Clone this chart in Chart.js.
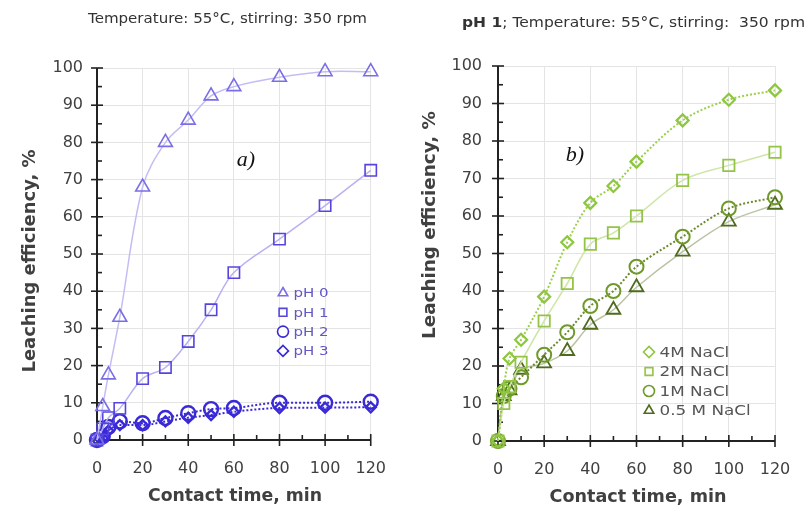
<!DOCTYPE html>
<html><head><meta charset="utf-8">
<script src="https://cdn.jsdelivr.net/npm/chart.js@4/dist/chart.umd.min.js"></script>
<style>
html,body{margin:0;padding:0;background:#fff;}
#wrap{position:relative;width:810px;height:513px;}
.c{position:absolute;top:0;width:405px;height:513px;}
</style></head>
<body><div id="wrap">
<div class="c" style="left:0"><canvas id="a" width="405" height="513"></canvas></div>
<div class="c" style="left:405px"><canvas id="b" width="405" height="513"></canvas></div>
</div>
<script>
// ---- data ----
const times = [0, 2.5, 5, 10, 20, 30, 40, 50, 60, 80, 100, 120];
const xTicks = [0, 20, 40, 60, 80, 100, 120];
const yTicks = [0, 10, 20, 30, 40, 50, 60, 70, 80, 90, 100];
const pH0 = [0, 9, 17.5, 33, 68, 80, 86, 92.5, 95, 97.5, 99, 99];
const pH1 = [0, 3, 6, 8.5, 16.5, 19.5, 26.5, 35, 45, 54, 63, 72.5];
const pH2 = [0, 1, 3.5, 5, 4.5, 5.9, 7.2, 8.3, 8.6, 10, 10, 10.3];
const pH3 = [0, 0.5, 2.5, 4, 4, 5, 6, 6.7, 7.6, 8.6, 8.7, 8.8];
const naCl4 = [0, 14, 22, 27, 38.5, 53, 63.5, 68, 74.5, 85.5, 91, 93.5];
const naCl2 = [0, 10, 14.5, 21, 32, 42, 52.5, 55.5, 60, 69.5, 73.5, 77];
const naCl1 = [0, 12, 14, 17, 23, 29, 36, 40, 46.5, 54.5, 62, 65];
const naCl05 = [0, 12, 13.5, 19, 20.7, 24, 31, 35, 41, 50.5, 58.5, 63];
const leftLabels = ['pH 0', 'pH 1', 'pH 2', 'pH 3'];
const rightLabels = ['4M NaCl', '2M NaCl', '1M NaCl', '0.5 M NaCl'];

const pts = arr => arr.map((v, i) => ({x: times[i], y: v}));
const FONT = '"DejaVu Sans", "Open Sans", sans-serif';

function ds(label, data, o) {
  return Object.assign({
    label, data: pts(data), showLine: true, backgroundColor: 'rgba(255,255,255,0)',
    pointBackgroundColor: 'rgba(255,255,255,0)', clip: false, fill: false
  }, o);
}

// draw (possibly mixed-weight) text stretched horizontally to a target width
function fitText(ctx, parts, size, x, y, targetW, align) {
  let total = 0;
  const widths = parts.map(p => { ctx.font = (p.bold ? 'bold ' : '') + size + 'px ' + FONT; const w = ctx.measureText(p.t).width; total += w; return w; });
  const k = targetW / total;
  ctx.save();
  ctx.translate(x, y);
  ctx.scale(k, 1);
  ctx.textAlign = 'left'; ctx.textBaseline = 'middle';
  let cx = align === 'center' ? -total / 2 : 0;
  parts.forEach((p, i) => { ctx.font = (p.bold ? 'bold ' : '') + size + 'px ' + FONT; ctx.fillText(p.t, cx, 0); cx += widths[i]; });
  ctx.restore();
}

function axesPlugin(cfg) {
  return {
    id: 'custom',
    beforeDatasetsDraw(chart) {
      const ctx = chart.ctx, a = chart.chartArea;
      const xs = chart.scales.x, ys = chart.scales.y;
      ctx.save();
      ctx.strokeStyle = '#222'; ctx.lineWidth = 2;
      ctx.beginPath();
      ctx.moveTo(a.left, a.top); ctx.lineTo(a.left, a.bottom); ctx.lineTo(a.right, a.bottom);
      ctx.stroke();
      ctx.lineWidth = 1.6;
      for (let v = 0; v <= 100; v += 5) {
        const y = ys.getPixelForValue(v);
        ctx.beginPath();
        if (v % 10 === 0) { ctx.moveTo(a.left - 6, y); ctx.lineTo(a.left + 6, y); }
        else { ctx.moveTo(a.left, y); ctx.lineTo(a.left + 5, y); }
        ctx.stroke();
      }
      for (let v = 0; v <= 120; v += 10) {
        const x = xs.getPixelForValue(v);
        ctx.beginPath();
        if (v % 20 === 0) { ctx.moveTo(x, a.bottom - 6); ctx.lineTo(x, a.bottom + 6); }
        else { ctx.moveTo(x, a.bottom); ctx.lineTo(x, a.bottom - 5); }
        ctx.stroke();
      }
      ctx.restore();
    },
    afterDraw(chart) {
      const ctx = chart.ctx;
      ctx.save();
      ctx.fillStyle = '#404040';
      // axis titles
      fitText(ctx, [{t: 'Contact time, min', bold: true}], 18, cfg.xTitleX, cfg.xTitleY, cfg.xTitleW, 'center');
      ctx.save();
      ctx.translate(cfg.yTitleX, cfg.yTitleY);
      ctx.rotate(-Math.PI / 2);
      fitText(ctx, [{t: 'Leaching efficiency, %', bold: true}], 18, 0, 0, cfg.yTitleW, 'center');
      ctx.restore();
      // header title
      ctx.fillStyle = '#333';
      fitText(ctx, cfg.title, cfg.titleSize, cfg.titleX, cfg.titleY, cfg.titleW, 'left');
      // panel letter
      ctx.font = 'italic 22px "Liberation Serif", "DejaVu Serif", serif';
      ctx.fillStyle = '#111'; ctx.textAlign = 'center'; ctx.textBaseline = 'middle';
      ctx.fillText(cfg.letter, cfg.letterX, cfg.letterY);
      // legend
      chart.data.datasets.forEach((d, i) => {
        const lx = cfg.legX, ly = cfg.legY + i * cfg.legStep;
        ctx.fillStyle = '#fff';
        ctx.strokeStyle = d.pointBorderColor;
        ctx.lineWidth = 1.6;
        Chart.helpers.drawPoint(ctx, {pointStyle: d.pointStyle, radius: cfg.legR, rotation: 0, borderWidth: 1.6}, lx, ly);
        ctx.font = cfg.legFont + 'px ' + FONT;
        ctx.fillStyle = cfg.legText;
        const w = ctx.measureText(cfg.labels[i]).width;
        fitText(ctx, [{t: cfg.labels[i]}], cfg.legFont, lx + cfg.legR + 5, ly + 1, w * cfg.legStretch, 'left');
      });
      ctx.restore();
    }
  };
}

function makeChart(id, datasets, area, cfg) {
  return new Chart(document.getElementById(id), {
    type: 'scatter',
    data: {datasets},
    options: {
      responsive: false, animation: false, devicePixelRatio: 1,
      layout: {padding: {left: 0, top: area.top, right: 405 - area.right, bottom: 0}},
      plugins: {legend: {display: false}, tooltip: {enabled: false}, title: {display: false}},
      scales: {
        x: {
          type: 'linear', min: 0, max: 120,
          afterFit: s => { s.height = 513 - area.bottom; },
          afterBuildTicks: s => { s.ticks = xTicks.map(v => ({value: v})); },
          grid: {color: '#e4e4e4', drawTicks: false, lineWidth: 1},
          border: {display: false},
          ticks: {padding: 19, color: '#404040', font: {family: FONT, size: 16}, maxRotation: 0}
        },
        y: {
          type: 'linear', min: 0, max: 100,
          afterFit: s => { s.width = area.left; },
          afterBuildTicks: s => { s.ticks = yTicks.map(v => ({value: v})); },
          grid: {color: '#e4e4e4', drawTicks: false, lineWidth: 1},
          border: {display: false},
          ticks: {padding: cfg.yPad, color: '#404040', font: {family: FONT, size: 16}}
        }
      }
    },
    plugins: [axesPlugin(cfg)]
  });
}

// left chart
const cA = '#7a6ee6', cB = '#5545de', cC = '#3a2ad6';
makeChart('a', [
  ds('pH 0', pH0, {pointStyle: 'triangle', pointRadius: 8, pointBorderWidth: 1.6, pointBorderColor: cA,
     borderColor: '#c4bdf3', borderWidth: 1.5, tension: 0.35}),
  ds('pH 1', pH1, {pointStyle: 'rect', pointRadius: 8, pointBorderWidth: 1.6, pointBorderColor: cB,
     borderColor: '#b9b1f1', borderWidth: 1.5, tension: 0.35}),
  ds('pH 2', pH2, {pointStyle: 'circle', pointRadius: 7, pointBorderWidth: 2.4, pointBorderColor: cC,
     borderColor: '#3a2ad6', borderWidth: 2, borderDash: [2, 2], tension: 0.3, cubicInterpolationMode: 'monotone'}),
  ds('pH 3', pH3, {pointStyle: 'rectRot', pointRadius: 5, pointBorderWidth: 2.4, pointBorderColor: cC,
     borderColor: '#3a2ad6', borderWidth: 2, borderDash: [2, 2], tension: 0.3, cubicInterpolationMode: 'monotone'})
], {left: 97, right: 373, top: 68, bottom: 440}, {
  yPad: 14, xTitleX: 235, xTitleY: 496, xTitleW: 174, yTitleX: 30, yTitleY: 261, yTitleW: 223,
  title: [{t: 'Temperature: 55°C, stirring: 350 rpm'}], titleX: 88, titleY: 19, titleSize: 14.5, titleW: 279,
  letter: 'a)', letterX: 246, letterY: 160,
  legX: 283, legY: 293, legStep: 19.3, legR: 5.5, legFont: 12.5, legStretch: 1.2, legText: '#6257c4', labels: leftLabels
});

// right chart
const g4 = '#8dc63f', g2 = '#93c447', g1 = '#6f9a2a', g05 = '#4f6b1e';
makeChart('b', [
  ds('4M NaCl', naCl4, {pointStyle: 'rectRot', pointRadius: 6, pointBorderWidth: 2.2, pointBorderColor: g4,
     borderColor: '#9ccf4a', borderWidth: 2, borderDash: [2, 2], tension: 0.35}),
  ds('2M NaCl', naCl2, {pointStyle: 'rect', pointRadius: 8, pointBorderWidth: 1.8, pointBorderColor: g2,
     borderColor: '#cfe6a8', borderWidth: 1.5, tension: 0.35}),
  ds('1M NaCl', naCl1, {pointStyle: 'circle', pointRadius: 7, pointBorderWidth: 2, pointBorderColor: g1,
     borderColor: '#6b8a2e', borderWidth: 2, borderDash: [2, 2], tension: 0.35}),
  ds('0.5 M NaCl', naCl05, {pointStyle: 'triangle', pointRadius: 8, pointBorderWidth: 1.8, pointBorderColor: g05,
     borderColor: '#b9c4a4', borderWidth: 1.5, tension: 0.35})
], {left: 93, right: 370, top: 66, bottom: 441}, {
  yPad: 16, xTitleX: 233, xTitleY: 497, xTitleW: 177, yTitleX: 25, yTitleY: 225, yTitleW: 228,
  title: [{t: 'pH 1', bold: true}, {t: '; Temperature: 55°C, stirring:  350 rpm'}], titleX: 57, titleY: 23, titleSize: 14.5, titleW: 343,
  letter: 'b)', letterX: 170, letterY: 155,
  legX: 244, legY: 352, legStep: 19.5, legR: 5.5, legFont: 14, legStretch: 1.2, legText: '#555', labels: rightLabels
});
</script>
</body></html>
